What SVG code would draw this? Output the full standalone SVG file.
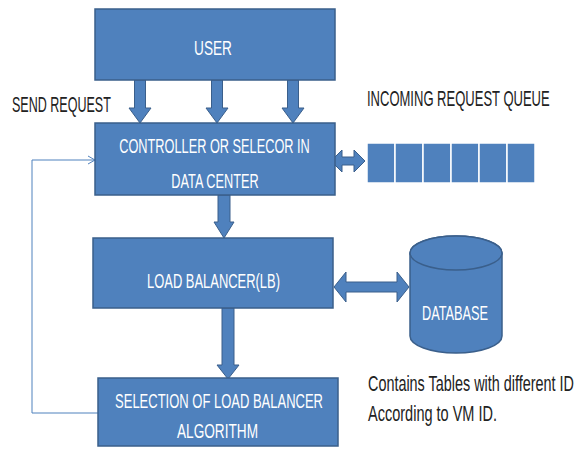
<svg xmlns="http://www.w3.org/2000/svg" width="582" height="449" viewBox="0 0 582 449">
<defs>
<style>
.box{fill:#4F81BD;stroke:#3A5F8B;stroke-width:1.5}
.arr{fill:#4F81BD;stroke:#3A5F8B;stroke-width:1}
.wt{fill:#ffffff;font-family:"Liberation Sans",Arial,sans-serif;font-size:21px;text-anchor:middle}
.bt{fill:#222222;font-family:"Liberation Sans",Arial,sans-serif;font-size:22px}
.cell{fill:#4F81BD;stroke:#ffffff;stroke-width:1.5}
</style>
<marker id="open" markerWidth="10" markerHeight="10" refX="8" refY="5" orient="auto" markerUnits="userSpaceOnUse">
<path d="M1,1 L8,5 L1,9" fill="none" stroke="#4F81BD" stroke-width="1"/>
</marker>
</defs>
<rect width="582" height="449" fill="#ffffff"/>

<g id="connectors">
<polygon class="arr" points="134.5,80 145.5,80 145.5,108 151,108 140,123 129,108 134.5,108"/>
<polygon class="arr" points="211.5,80 222.5,80 222.5,108 228,108 217,123 206,108 211.5,108"/>
<polygon class="arr" points="287.5,80 298.5,80 298.5,108 304,108 293,123 282,108 287.5,108"/>
<polygon class="arr" points="218,195 230,195 230,222 234,222 224,238 214,222 218,222"/>
<polygon class="arr" points="222,308 234,308 234,365 239,365 228,379 217,365 222,365"/>
<polygon class="arr" points="331,161 342,150 342,157 354,157 354,150 365,161 354,172 354,165 342,165 342,172"/>
<polygon class="arr" points="334,287 346,272 346,282 397,282 397,272 409,287 397,302 397,292 346,292 346,302"/>
<polyline points="98,413 32,413 32,160 95,160" fill="none" stroke="#4F81BD" stroke-width="1" marker-end="url(#open)"/>
</g>

<g id="user">
<rect class="box" x="95" y="9" width="240" height="71"/>
<text class="wt" transform="translate(213,55) scale(0.65,1)">USER</text>
</g>

<g id="controller">
<rect class="box" x="95" y="123" width="240" height="72"/>
<text class="wt" transform="translate(214.5,153) scale(0.608,1)">CONTROLLER OR SELECOR IN</text>
<text class="wt" transform="translate(215,188) scale(0.607,1)">DATA CENTER</text>
</g>

<g id="queue">
<rect class="cell" x="367" y="143" width="28" height="40"/>
<rect class="cell" x="395" y="143" width="28" height="40"/>
<rect class="cell" x="423" y="143" width="28" height="40"/>
<rect class="cell" x="451" y="143" width="28" height="40"/>
<rect class="cell" x="479" y="143" width="28" height="40"/>
<rect class="cell" x="507" y="143" width="28" height="40"/>
</g>

<g id="load-balancer">
<rect class="box" x="93" y="238" width="240" height="70"/>
<text class="wt" transform="translate(213.5,288) scale(0.616,1)">LOAD BALANCER(LB)</text>
</g>

<g id="database">
<path class="box" d="M410,253 L410,336 A46,17 0 0 0 502,336 L502,253 A46,17 0 0 0 410,253 Z"/>
<ellipse class="box" cx="456" cy="253" rx="46" ry="17"/>
<text class="wt" transform="translate(455,320) scale(0.607,1)">DATABASE</text>
</g>

<g id="selection">
<rect class="box" x="98" y="378" width="240" height="68"/>
<text class="wt" transform="translate(219,408) scale(0.619,1)">SELECTION OF LOAD BALANCER</text>
<text class="wt" transform="translate(217.5,438) scale(0.649,1)">ALGORITHM</text>
</g>

<g id="labels">
<text class="bt" transform="translate(12,112) scale(0.57,1)">SEND REQUEST</text>
<text class="bt" transform="translate(367,106) scale(0.592,1)">INCOMING REQUEST QUEUE</text>
<text class="bt" transform="translate(368,391) scale(0.655,1)">Contains Tables with different ID</text>
<text class="bt" transform="translate(368,421) scale(0.66,1)">According to VM ID.</text>
</g>
</svg>
